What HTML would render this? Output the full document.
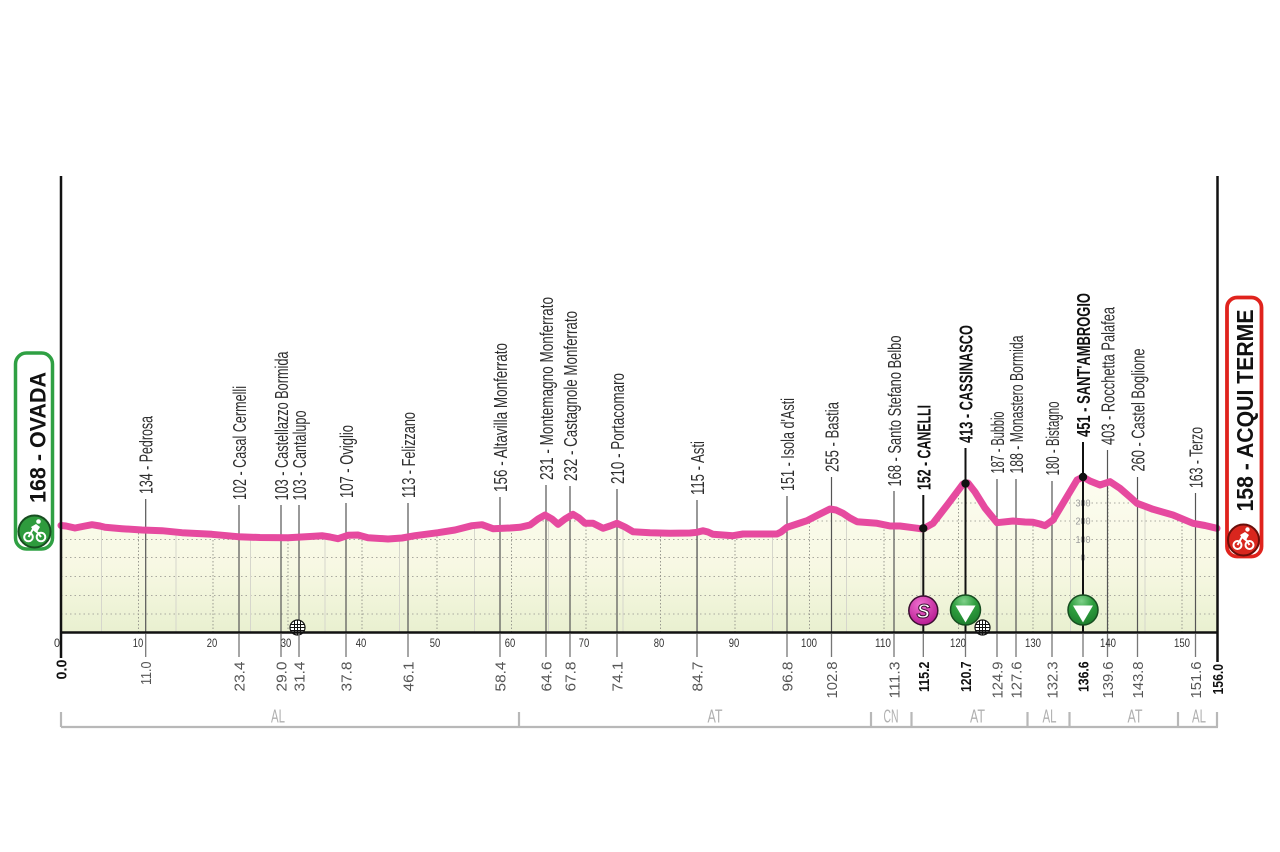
<!DOCTYPE html>
<html><head><meta charset="utf-8"><style>
html,body{margin:0;padding:0;background:#fff;}
svg{display:block;}
text{font-family:"Liberation Sans",sans-serif;}
</style></head><body>
<svg width="1280" height="852" viewBox="0 0 1280 852" xmlns="http://www.w3.org/2000/svg">
<defs>
<linearGradient id="fillg" x1="0" y1="470" x2="0" y2="632" gradientUnits="userSpaceOnUse">
<stop offset="0" stop-color="#fdfdf1"/><stop offset="0.6" stop-color="#f7f8e3"/><stop offset="1" stop-color="#e9f0d0"/>
</linearGradient>
<radialGradient id="sg" cx="0.4" cy="0.3" r="0.8"><stop offset="0" stop-color="#f070d0"/><stop offset="1" stop-color="#b0108a"/></radialGradient>
<radialGradient id="gg" cx="0.45" cy="0.2" r="0.85"><stop offset="0" stop-color="#7fd08a"/><stop offset="0.45" stop-color="#2e9e3e"/><stop offset="1" stop-color="#1c7a2b"/></radialGradient>
<clipPath id="cp"><path id="fillpath" d="M61,632 L61,525.5 L66,526 L75,528 L85,526 L92,524.7 L100,526 L105,527.3 L122,528.7 L142,530 L162,530.7 L182,532.7 L212,534.3 L238,536.7 L260,537.5 L288,537.7 L310,536.5 L322,535.7 L330,537 L338,538.7 L348,535.3 L358,535 L368,537.7 L388,539 L402,538 L415,535.7 L438,532.7 L455,530 L472,525.7 L482,524.7 L493,528.7 L510,528 L520,527.3 L530,525 L538,519 L545,515 L552,519 L558,524.3 L565,519 L573,514.3 L579,518 L585,523.3 L593,523.3 L603,528.3 L610,526 L617,523.3 L625,527 L633,531.7 L650,532.8 L670,533.3 L690,533 L697,532.3 L703,530.7 L708,532 L713,534.3 L733,535.7 L743,534 L760,534 L777,534 L781,532 L787,527.3 L797,524 L807,520.7 L818,515 L830,509 L836,510 L843,513.3 L850,518 L857,521.7 L877,523.3 L890,526 L900,526 L913,527.7 L923,529 L933,523.3 L948,504 L963,484 L968,483 L975,492 L985,508 L997,522.7 L1013,521 L1025,522 L1033,522.3 L1040,524 L1045,525.7 L1053,520 L1065,500 L1077,480 L1083,477 L1090,481 L1100,485 L1110,481.7 L1120,488.3 L1130,497 L1137,503.3 L1153,509.3 L1173,515 L1193,523.3 L1205,525.5 L1217,528.3 L1217,632 Z"/></clipPath>
</defs>

<use href="#fillpath" fill="url(#fillg)"/>
<g clip-path="url(#cp)">
  <g stroke="#a9a9a0" stroke-width="1" stroke-dasharray="1.5,3">
    <line x1="61" y1="503" x2="1217" y2="503"/>
    <line x1="61" y1="521" x2="1217" y2="521"/>
    <line x1="61" y1="539.5" x2="1217" y2="539.5"/>
    <line x1="61" y1="557.5" x2="1217" y2="557.5"/>
    <line x1="61" y1="576.5" x2="1217" y2="576.5"/>
    <line x1="61" y1="595.5" x2="1217" y2="595.5"/>
    <line x1="61" y1="614" x2="1217" y2="614"/>
  </g>
  <g stroke="#d6d6cc" stroke-width="1">
    <line x1="101.5" y1="470" x2="101.5" y2="632"/><line x1="176" y1="470" x2="176" y2="632"/>
    <line x1="250.5" y1="470" x2="250.5" y2="632"/><line x1="325" y1="470" x2="325" y2="632"/>
    <line x1="399.5" y1="470" x2="399.5" y2="632"/><line x1="474.5" y1="470" x2="474.5" y2="632"/>
    <line x1="548.5" y1="470" x2="548.5" y2="632"/><line x1="623" y1="470" x2="623" y2="632"/>
    <line x1="697.5" y1="470" x2="697.5" y2="632"/><line x1="772.5" y1="470" x2="772.5" y2="632"/>
    <line x1="846.5" y1="470" x2="846.5" y2="632"/><line x1="921" y1="470" x2="921" y2="632"/>
    <line x1="996" y1="470" x2="996" y2="632"/><line x1="1070.5" y1="470" x2="1070.5" y2="632"/>
    <line x1="1145" y1="470" x2="1145" y2="632"/>
  </g>
  <g stroke="#9a9a90" stroke-width="1" stroke-dasharray="1.5,2">
    <line x1="138.5" y1="470" x2="138.5" y2="632"/><line x1="213" y1="470" x2="213" y2="632"/>
    <line x1="288" y1="470" x2="288" y2="632"/><line x1="362" y1="470" x2="362" y2="632"/>
    <line x1="437" y1="470" x2="437" y2="632"/><line x1="511.5" y1="470" x2="511.5" y2="632"/>
    <line x1="586" y1="470" x2="586" y2="632"/><line x1="660.5" y1="470" x2="660.5" y2="632"/>
    <line x1="735" y1="470" x2="735" y2="632"/><line x1="809.5" y1="470" x2="809.5" y2="632"/>
    <line x1="884" y1="470" x2="884" y2="632"/><line x1="958.5" y1="470" x2="958.5" y2="632"/>
    <line x1="1033" y1="470" x2="1033" y2="632"/><line x1="1108" y1="470" x2="1108" y2="632"/>
    <line x1="1182" y1="470" x2="1182" y2="632"/>
  </g>
</g>

<g font-size="10" fill="#9a9a9a" text-anchor="middle">
  <text x="1083" y="506.5" textLength="15" lengthAdjust="spacingAndGlyphs">300</text>
  <text x="1083" y="524.5" textLength="15" lengthAdjust="spacingAndGlyphs">200</text>
  <text x="1083" y="543" textLength="15" lengthAdjust="spacingAndGlyphs">100</text>
  <text x="1083" y="561" textLength="5" lengthAdjust="spacingAndGlyphs">0</text>
</g>

<g stroke="#555" stroke-width="1.2">
  <line x1="145.7" y1="499" x2="145.7" y2="632"/>
  <line x1="239" y1="505" x2="239" y2="632"/>
  <line x1="281" y1="505" x2="281" y2="632"/>
  <line x1="299" y1="505" x2="299" y2="632"/>
  <line x1="346" y1="503" x2="346" y2="632"/>
  <line x1="408" y1="503" x2="408" y2="632"/>
  <line x1="500" y1="497" x2="500" y2="632"/>
  <line x1="546" y1="485" x2="546" y2="632"/>
  <line x1="570" y1="486" x2="570" y2="632"/>
  <line x1="617" y1="489" x2="617" y2="632"/>
  <line x1="697" y1="500" x2="697" y2="632"/>
  <line x1="787" y1="496" x2="787" y2="632"/>
  <line x1="831.5" y1="477" x2="831.5" y2="632"/>
  <line x1="894" y1="491" x2="894" y2="632"/>
  <line x1="997" y1="479" x2="997" y2="632"/>
  <line x1="1016" y1="479" x2="1016" y2="632"/>
  <line x1="1052" y1="481" x2="1052" y2="632"/>
  <line x1="1107.5" y1="450" x2="1107.5" y2="632"/>
  <line x1="1137.5" y1="477" x2="1137.5" y2="632"/>
  <line x1="1195.5" y1="493" x2="1195.5" y2="632"/>
</g>
<g stroke="#111" stroke-width="2">
  <line x1="923.3" y1="495" x2="923.3" y2="632"/>
  <line x1="965.5" y1="448" x2="965.5" y2="632"/>
  <line x1="1083" y1="442" x2="1083" y2="632"/>
</g>

<polyline fill="none" stroke="#e64a9f" stroke-width="7" stroke-linejoin="round" stroke-linecap="round" points="61,525.5 66,526 75,528 85,526 92,524.7 100,526 105,527.3 122,528.7 142,530 162,530.7 182,532.7 212,534.3 238,536.7 260,537.5 288,537.7 310,536.5 322,535.7 330,537 338,538.7 348,535.3 358,535 368,537.7 388,539 402,538 415,535.7 438,532.7 455,530 472,525.7 482,524.7 493,528.7 510,528 520,527.3 530,525 538,519 545,515 552,519 558,524.3 565,519 573,514.3 579,518 585,523.3 593,523.3 603,528.3 610,526 617,523.3 625,527 633,531.7 650,532.8 670,533.3 690,533 697,532.3 703,530.7 708,532 713,534.3 733,535.7 743,534 760,534 777,534 781,532 787,527.3 797,524 807,520.7 818,515 830,509 836,510 843,513.3 850,518 857,521.7 877,523.3 890,526 900,526 913,527.7 923,529 933,523.3 948,504 963,484 968,483 975,492 985,508 997,522.7 1013,521 1025,522 1033,522.3 1040,524 1045,525.7 1053,520 1065,500 1077,480 1083,477 1090,481 1100,485 1110,481.7 1120,488.3 1130,497 1137,503.3 1153,509.3 1173,515 1193,523.3 1205,525.5 1217,528.3"/>

<circle cx="923.3" cy="528.3" r="4.2" fill="#111"/>
<circle cx="965.5" cy="483.5" r="4.2" fill="#111"/>
<circle cx="1083" cy="477" r="4.2" fill="#111"/>

<g font-size="18" fill="#2e2e2e">
  <text transform="translate(152.7,494) rotate(-90)" textLength="78" lengthAdjust="spacingAndGlyphs">134 - Pedrosa</text>
  <text transform="translate(246,500) rotate(-90)" textLength="114" lengthAdjust="spacingAndGlyphs">102 - Casal Cermelli</text>
  <text transform="translate(288,500.5) rotate(-90)" textLength="149" lengthAdjust="spacingAndGlyphs">103 - Castellazzo Bormida</text>
  <text transform="translate(306,500.5) rotate(-90)" textLength="90" lengthAdjust="spacingAndGlyphs">103 - Cantalupo</text>
  <text transform="translate(353,498) rotate(-90)" textLength="73" lengthAdjust="spacingAndGlyphs">107 - Oviglio</text>
  <text transform="translate(415,498) rotate(-90)" textLength="86" lengthAdjust="spacingAndGlyphs">113 - Felizzano</text>
  <text transform="translate(507,492) rotate(-90)" textLength="149" lengthAdjust="spacingAndGlyphs">156 - Altavilla Monferrato</text>
  <text transform="translate(553,480) rotate(-90)" textLength="183" lengthAdjust="spacingAndGlyphs">231 - Montemagno Monferrato</text>
  <text transform="translate(577,481) rotate(-90)" textLength="170" lengthAdjust="spacingAndGlyphs">232 - Castagnole Monferrato</text>
  <text transform="translate(624,484) rotate(-90)" textLength="111" lengthAdjust="spacingAndGlyphs">210 - Portacomaro</text>
  <text transform="translate(704,495) rotate(-90)" textLength="54" lengthAdjust="spacingAndGlyphs">115 - Asti</text>
  <text transform="translate(794,491) rotate(-90)" textLength="93" lengthAdjust="spacingAndGlyphs">151 - Isola d'Asti</text>
  <text transform="translate(838.5,472) rotate(-90)" textLength="70" lengthAdjust="spacingAndGlyphs">255 - Bastia</text>
  <text transform="translate(901,486.5) rotate(-90)" textLength="151" lengthAdjust="spacingAndGlyphs">168 - Santo Stefano Belbo</text>
  <text transform="translate(1004,473.5) rotate(-90)" textLength="62" lengthAdjust="spacingAndGlyphs">187 - Bubbio</text>
  <text transform="translate(1023,473.5) rotate(-90)" textLength="138" lengthAdjust="spacingAndGlyphs">188 - Monastero Bormida</text>
  <text transform="translate(1059,475.5) rotate(-90)" textLength="74" lengthAdjust="spacingAndGlyphs">180 - Bistagno</text>
  <text transform="translate(1114.5,445) rotate(-90)" textLength="138" lengthAdjust="spacingAndGlyphs">403 - Rocchetta Palafea</text>
  <text transform="translate(1144.5,471.5) rotate(-90)" textLength="123" lengthAdjust="spacingAndGlyphs">260 - Castel Boglione</text>
  <text transform="translate(1202.5,488) rotate(-90)" textLength="61" lengthAdjust="spacingAndGlyphs">163 - Terzo</text>
</g>
<g font-size="18" font-weight="bold" fill="#111">
  <text transform="translate(930.3,490) rotate(-90)" textLength="85" lengthAdjust="spacingAndGlyphs">152 - CANELLI</text>
  <text transform="translate(972.5,443) rotate(-90)" textLength="118" lengthAdjust="spacingAndGlyphs">413 - CASSINASCO</text>
  <text transform="translate(1090,437) rotate(-90)" textLength="144" lengthAdjust="spacingAndGlyphs">451 - SANT'AMBROGIO</text>
</g>

<circle cx="923.3" cy="610.5" r="14.5" fill="url(#sg)" stroke="#3a1030" stroke-width="1.5"/>
<text x="923.3" y="618" font-size="20" font-weight="bold" font-style="italic" fill="#fff" stroke="#3a1030" stroke-width="1" text-anchor="middle">S</text>
<circle cx="965.5" cy="610" r="15" fill="url(#gg)" stroke="#174d20" stroke-width="1.5"/>
<polygon points="955.5,605.5 975.5,605.5 965.5,622.5" fill="#fff"/>
<circle cx="1083" cy="610" r="15" fill="url(#gg)" stroke="#174d20" stroke-width="1.5"/>
<polygon points="1073,605.5 1093,605.5 1083,622.5" fill="#fff"/>

<g stroke="#111" stroke-width="1.2" fill="#fff">
  <circle cx="297.5" cy="627.5" r="7.5"/>
  <circle cx="982.5" cy="627.5" r="7.5"/>
</g>
<g stroke="#111" stroke-width="1">
  <line x1="294.5" y1="621" x2="294.5" y2="634"/><line x1="297.5" y1="620.5" x2="297.5" y2="634.5"/><line x1="300.5" y1="621" x2="300.5" y2="634"/>
  <line x1="291" y1="624.5" x2="304" y2="624.5"/><line x1="290.5" y1="627.5" x2="304.5" y2="627.5"/><line x1="291" y1="630.5" x2="304" y2="630.5"/>
  <line x1="979.5" y1="621" x2="979.5" y2="634"/><line x1="982.5" y1="620.5" x2="982.5" y2="634.5"/><line x1="985.5" y1="621" x2="985.5" y2="634"/>
  <line x1="976" y1="624.5" x2="989" y2="624.5"/><line x1="975.5" y1="627.5" x2="989.5" y2="627.5"/><line x1="976" y1="630.5" x2="989" y2="630.5"/>
</g>

<line x1="61" y1="176" x2="61" y2="658" stroke="#111" stroke-width="2.5"/>
<line x1="1217.5" y1="176" x2="1217.5" y2="662" stroke="#111" stroke-width="2.5"/>
<line x1="60" y1="632.5" x2="1218.5" y2="632.5" stroke="#111" stroke-width="2.5"/>

<g stroke="#777" stroke-width="1.3">
  <line x1="145.7" y1="634" x2="145.7" y2="657"/><line x1="239" y1="634" x2="239" y2="657"/>
  <line x1="281" y1="634" x2="281" y2="657"/><line x1="299" y1="634" x2="299" y2="657"/>
  <line x1="346" y1="634" x2="346" y2="657"/><line x1="408" y1="634" x2="408" y2="657"/>
  <line x1="500" y1="634" x2="500" y2="657"/><line x1="546" y1="634" x2="546" y2="657"/>
  <line x1="570" y1="634" x2="570" y2="657"/><line x1="617" y1="634" x2="617" y2="657"/>
  <line x1="697" y1="634" x2="697" y2="657"/><line x1="787" y1="634" x2="787" y2="657"/>
  <line x1="831.5" y1="634" x2="831.5" y2="657"/><line x1="894" y1="634" x2="894" y2="657"/>
  <line x1="923.3" y1="634" x2="923.3" y2="657"/><line x1="965.5" y1="634" x2="965.5" y2="657"/>
  <line x1="997" y1="634" x2="997" y2="657"/><line x1="1016" y1="634" x2="1016" y2="657"/>
  <line x1="1052" y1="634" x2="1052" y2="657"/><line x1="1083" y1="634" x2="1083" y2="657"/>
  <line x1="1107.5" y1="634" x2="1107.5" y2="657"/><line x1="1137.5" y1="634" x2="1137.5" y2="657"/>
  <line x1="1195.5" y1="634" x2="1195.5" y2="657"/>
</g>

<g font-size="12" fill="#333" text-anchor="middle">
  <text x="57" y="647" textLength="6" lengthAdjust="spacingAndGlyphs">0</text>
  <text x="138" y="647" textLength="10.5" lengthAdjust="spacingAndGlyphs">10</text>
  <text x="212" y="647" textLength="10.5" lengthAdjust="spacingAndGlyphs">20</text>
  <text x="286" y="647" textLength="10.5" lengthAdjust="spacingAndGlyphs">30</text>
  <text x="361" y="647" textLength="10.5" lengthAdjust="spacingAndGlyphs">40</text>
  <text x="435" y="647" textLength="10.5" lengthAdjust="spacingAndGlyphs">50</text>
  <text x="510" y="647" textLength="10.5" lengthAdjust="spacingAndGlyphs">60</text>
  <text x="584" y="647" textLength="10.5" lengthAdjust="spacingAndGlyphs">70</text>
  <text x="659" y="647" textLength="10.5" lengthAdjust="spacingAndGlyphs">80</text>
  <text x="734" y="647" textLength="10.5" lengthAdjust="spacingAndGlyphs">90</text>
  <text x="809" y="647" textLength="16" lengthAdjust="spacingAndGlyphs">100</text>
  <text x="883" y="647" textLength="16" lengthAdjust="spacingAndGlyphs">110</text>
  <text x="958" y="647" textLength="16" lengthAdjust="spacingAndGlyphs">120</text>
  <text x="1033" y="647" textLength="16" lengthAdjust="spacingAndGlyphs">130</text>
  <text x="1108" y="647" textLength="16" lengthAdjust="spacingAndGlyphs">140</text>
  <text x="1182" y="647" textLength="16" lengthAdjust="spacingAndGlyphs">150</text>
</g>

<g font-size="15" fill="#555" text-anchor="end">
  <text transform="translate(151.2,661.5) rotate(-90)" textLength="23.5" lengthAdjust="spacingAndGlyphs">11.0</text>
  <text transform="translate(244.5,661.5) rotate(-90)" textLength="30" lengthAdjust="spacingAndGlyphs">23.4</text>
  <text transform="translate(286.5,661.5) rotate(-90)" textLength="30" lengthAdjust="spacingAndGlyphs">29.0</text>
  <text transform="translate(304.5,661.5) rotate(-90)" textLength="30" lengthAdjust="spacingAndGlyphs">31.4</text>
  <text transform="translate(351.5,661.5) rotate(-90)" textLength="30" lengthAdjust="spacingAndGlyphs">37.8</text>
  <text transform="translate(413.5,661.5) rotate(-90)" textLength="30" lengthAdjust="spacingAndGlyphs">46.1</text>
  <text transform="translate(505.5,661.5) rotate(-90)" textLength="30" lengthAdjust="spacingAndGlyphs">58.4</text>
  <text transform="translate(551.5,661.5) rotate(-90)" textLength="30" lengthAdjust="spacingAndGlyphs">64.6</text>
  <text transform="translate(575.5,661.5) rotate(-90)" textLength="30" lengthAdjust="spacingAndGlyphs">67.8</text>
  <text transform="translate(622.5,661.5) rotate(-90)" textLength="30" lengthAdjust="spacingAndGlyphs">74.1</text>
  <text transform="translate(702.5,661.5) rotate(-90)" textLength="30" lengthAdjust="spacingAndGlyphs">84.7</text>
  <text transform="translate(792.5,661.5) rotate(-90)" textLength="30" lengthAdjust="spacingAndGlyphs">96.8</text>
  <text transform="translate(837,661.5) rotate(-90)" textLength="37" lengthAdjust="spacingAndGlyphs">102.8</text>
  <text transform="translate(899.5,661.5) rotate(-90)" textLength="37" lengthAdjust="spacingAndGlyphs">111.3</text>
  <text transform="translate(1002.5,661.5) rotate(-90)" textLength="37" lengthAdjust="spacingAndGlyphs">124.9</text>
  <text transform="translate(1021.5,661.5) rotate(-90)" textLength="37" lengthAdjust="spacingAndGlyphs">127.6</text>
  <text transform="translate(1057.5,661.5) rotate(-90)" textLength="37" lengthAdjust="spacingAndGlyphs">132.3</text>
  <text transform="translate(1113,661.5) rotate(-90)" textLength="37" lengthAdjust="spacingAndGlyphs">139.6</text>
  <text transform="translate(1143,661.5) rotate(-90)" textLength="37" lengthAdjust="spacingAndGlyphs">143.8</text>
  <text transform="translate(1201,661.5) rotate(-90)" textLength="37" lengthAdjust="spacingAndGlyphs">151.6</text>
</g>
<g font-size="15" font-weight="bold" fill="#111" text-anchor="end">
  <text transform="translate(66.5,659.5) rotate(-90)" textLength="20" lengthAdjust="spacingAndGlyphs">0.0</text>
  <text transform="translate(929,661.5) rotate(-90)" textLength="30.5" lengthAdjust="spacingAndGlyphs">115.2</text>
  <text transform="translate(971,661.5) rotate(-90)" textLength="30.5" lengthAdjust="spacingAndGlyphs">120.7</text>
  <text transform="translate(1088.5,661.5) rotate(-90)" textLength="30.5" lengthAdjust="spacingAndGlyphs">136.6</text>
  <text transform="translate(1223,664) rotate(-90)" textLength="30.5" lengthAdjust="spacingAndGlyphs">156.0</text>
</g>

<g stroke="#b8b8b8" stroke-width="2.2" fill="none">
  <line x1="61" y1="727" x2="1218" y2="727"/>
  <line x1="61" y1="712" x2="61" y2="727"/>
  <line x1="519" y1="712" x2="519" y2="727"/>
  <line x1="871" y1="712" x2="871" y2="727"/>
  <line x1="911.5" y1="712" x2="911.5" y2="727"/>
  <line x1="1027.5" y1="712" x2="1027.5" y2="727"/>
  <line x1="1069.5" y1="712" x2="1069.5" y2="727"/>
  <line x1="1178" y1="712" x2="1178" y2="727"/>
  <line x1="1217" y1="712" x2="1217" y2="727"/>
</g>
<g font-size="18" fill="#b0b0b0" text-anchor="middle">
  <text x="278" y="722.5" textLength="14" lengthAdjust="spacingAndGlyphs">AL</text>
  <text x="715" y="722.5" textLength="15" lengthAdjust="spacingAndGlyphs">AT</text>
  <text x="891" y="722.5" textLength="15" lengthAdjust="spacingAndGlyphs">CN</text>
  <text x="977.5" y="722.5" textLength="15" lengthAdjust="spacingAndGlyphs">AT</text>
  <text x="1049.5" y="722.5" textLength="14" lengthAdjust="spacingAndGlyphs">AL</text>
  <text x="1135" y="722.5" textLength="15" lengthAdjust="spacingAndGlyphs">AT</text>
  <text x="1199" y="722.5" textLength="14" lengthAdjust="spacingAndGlyphs">AL</text>
</g>

<rect x="15.5" y="353" width="37" height="196" rx="11" fill="#fff" stroke="#2fa043" stroke-width="3.5"/>
<text transform="translate(45.5,503) rotate(-90)" font-size="22" font-weight="bold" fill="#111" textLength="131" lengthAdjust="spacingAndGlyphs">168 - OVADA</text>
<circle cx="34.5" cy="531.5" r="16" fill="#2e9b3d" stroke="#174d20" stroke-width="2"/>
<g stroke="#fff" stroke-width="2" fill="none">
  <circle cx="28.5" cy="537" r="4.3"/>
  <circle cx="41" cy="537" r="4.3"/>
  <path d="M28.5,537 L33,529 L38,533 L41,537"/>
</g>
<path d="M31,527 L36,524 L40,527 L37,532 L33,530 Z" fill="#fff"/>
<circle cx="38.5" cy="521.5" r="2.3" fill="#fff"/>

<rect x="1227" y="297.5" width="34.5" height="259" rx="10" fill="#fff" stroke="#e0231d" stroke-width="3.8"/>
<text transform="translate(1253,511.5) rotate(-90)" font-size="23" font-weight="bold" fill="#111" textLength="202" lengthAdjust="spacingAndGlyphs">158 - ACQUI TERME</text>
<circle cx="1243.5" cy="540" r="15.5" fill="#d9261e" stroke="#6a0e0a" stroke-width="2"/>
<g stroke="#fff" stroke-width="2" fill="none">
  <circle cx="1237.5" cy="545" r="4"/>
  <circle cx="1249.5" cy="545" r="4"/>
  <path d="M1237.5,545 L1242,537 L1247,541 L1249.5,545"/>
</g>
<path d="M1240,535 L1245,532 L1249,535 L1246,540 L1242,538 Z" fill="#fff"/>
<circle cx="1247.5" cy="529.5" r="2.2" fill="#fff"/>
</svg>
</body></html>
